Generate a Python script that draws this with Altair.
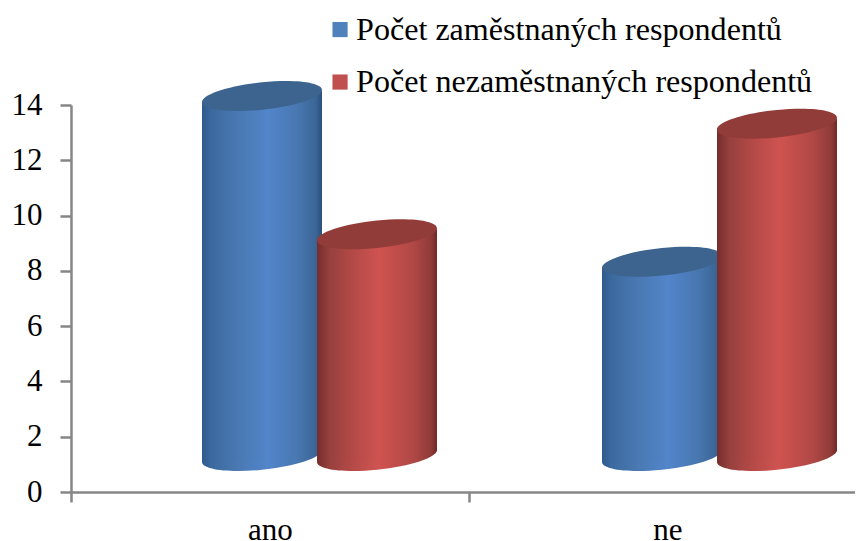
import altair as alt
import pandas as pd

categories = ["ano", "ne"]
series_names = ["Počet zaměstnaných respondentů", "Počet nezaměstnaných respondentů"]
employed = [14, 8]
unemployed = [9, 13]
floor_value = 1.3

BLUE, RED = "#4f81bd", "#c0504d"
FONT = "Liberation Serif"
WIDTH = 120
ELLIPSE = "M-1,0.1 A1.005,0.228,-6,1,1,1,-0.1 A1.005,0.228,-6,1,1,-1,0.1 Z"


def gradient(stops):
    return alt.Gradient(
        gradient="linear", x1=0, x2=1, y1=0, y2=0,
        stops=[alt.GradientStop(offset=o, color=c) for o, c in stops],
    )


blue_stops = [(0, "#2f5a8c"), (0.08, "#3c6a9f"), (0.3, "#4a79b3"), (0.5, "#5083c6"),
              (0.55, "#5285ca"), (0.8, "#4877b0"), (0.95, "#3b6596"), (1, "#2b4f7a")]
red_stops = [(0, "#752d2b"), (0.1, "#96403d"), (0.3, "#b54a47"), (0.5, "#ce5350"),
             (0.52, "#cf5350"), (0.8, "#b04845"), (0.95, "#8f3b38"), (1, "#6f2b29")]


def left_half(stops):
    return gradient([(o * 2, c) for o, c in stops if o <= 0.5])


def right_half(stops):
    return gradient([((o - 0.5) * 2, c) for o, c in stops if o >= 0.5])


y_scale = alt.Scale(domain=[0, 14], nice=False)
x_marks = alt.X("cat:N", sort=categories, title=None, axis=None,
                scale=alt.Scale(paddingInner=0, paddingOuter=0, range=[0, 800]))
x_axis = alt.X(
    "cat:N", sort=categories, title=None,
    scale=alt.Scale(paddingInner=0, paddingOuter=0, range=[0, 795]),
    axis=alt.Axis(labelAngle=0, labelFont=FONT, labelFontSize=31, labelColor="#000000",
                  labelPadding=13, domainColor="#868686", domainWidth=2.5, tickColor="#868686",
                  tickWidth=2.5, tickSize=10, tickBand="extent", labelBaseline="top"),
)
y_axis = alt.Axis(values=list(range(0, 15, 2)), grid=False, labelFont=FONT, labelFontSize=31,
                  labelColor="#000000", labelPadding=18, domainColor="#868686", domainWidth=2.5,
                  tickColor="#868686", tickWidth=2.5, tickSize=11, title=None)
y_enc = alt.Y("value:Q", title=None, scale=y_scale, axis=y_axis)


def cylinder(values, stops, top, dx):
    df = pd.DataFrame({"cat": categories, "value": values, "base": [floor_value] * len(categories)})
    left = alt.Chart(df).mark_bar(size=WIDTH / 2 + 2, fill=left_half(stops), xOffset=dx - WIDTH / 4 + 1,
                                  yOffset=-4, y2Offset=5).encode(
        x=x_marks, y=y_enc, y2=alt.Y2("base:Q"))
    right = alt.Chart(df).mark_bar(size=WIDTH / 2, fill=right_half(stops), xOffset=dx + WIDTH / 4,
                                   yOffset=-14, y2Offset=-5).encode(
        x=x_marks, y=y_enc, y2=alt.Y2("base:Q"))
    foot = alt.Chart(df).mark_point(shape=ELLIPSE, size=WIDTH**2, fill=gradient(stops), filled=True,
                                    opacity=1, strokeWidth=0, xOffset=dx).encode(
        x=x_marks, y=alt.Y("base:Q", title=None, scale=y_scale, axis=y_axis))
    cap = alt.Chart(df).mark_point(shape=ELLIPSE, size=WIDTH**2, fill=top, filled=True,
                                   opacity=1, strokeWidth=0, xOffset=dx, yOffset=-9).encode(
        x=x_marks, y=y_enc)
    return [foot, left, right, cap]


legend_df = pd.DataFrame({"cat": categories * 2, "value": [0, 0, 0, 0],
                          "series": [series_names[0]] * 2 + [series_names[1]] * 2})
legend_layer = alt.Chart(legend_df).mark_point(size=0, filled=True, opacity=1).encode(
    x=x_axis, y=y_enc,
    fill=alt.Fill("series:N", sort=series_names, title=None,
                  scale=alt.Scale(domain=series_names, range=[BLUE, RED]),
                  legend=alt.Legend(orient="none", legendX=250, legendY=-91.5, symbolType="square",
                                    symbolSize=230, symbolOpacity=1, symbolOffset=3, labelFont=FONT,
                                    labelFontSize=32.1, labelColor="#000000", labelLimit=600,
                                    rowPadding=19.5, labelOffset=0, symbolStrokeWidth=0)),
)

layers = (cylinder(employed, blue_stops, "#3c648f", -9)
          + cylinder(unemployed, red_stops, "#923c39", 106)
          + [legend_layer])

chart = alt.layer(*layers).resolve_scale(x="independent").properties(
    width=784, height=387,
    padding={"left": 63, "top": 97, "right": 0, "bottom": 50},
    autosize=alt.AutoSizeParams(type="none"),
    background="#ffffff",
).configure_view(stroke=None)

chart.save("out.html", embed_options={"renderer": "svg", "actions": False})
